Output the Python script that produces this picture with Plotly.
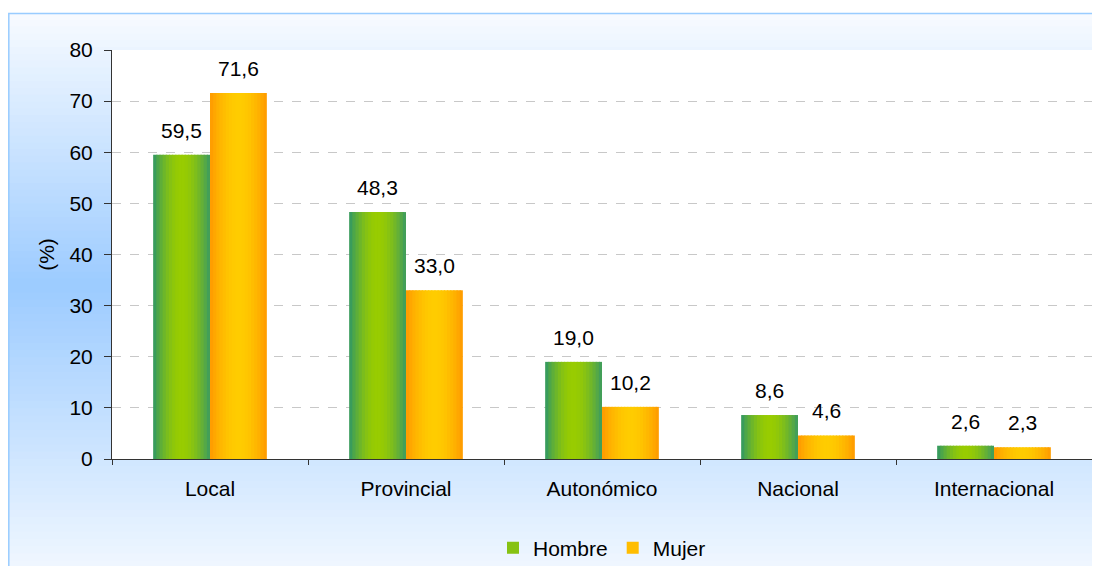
import plotly.graph_objects as go

categories = ["Local", "Provincial", "Autonómico", "Nacional", "Internacional"]
hombre = [59.5, 48.3, 19.0, 8.6, 2.6]
mujer = [71.6, 33.0, 10.2, 4.6, 2.3]
hombre_labels = ["59,5", "48,3", "19,0", "8,6", "2,6"]
mujer_labels = ["71,6", "33,0", "10,2", "4,6", "2,3"]

FONT = "Liberation Sans, Arial, sans-serif"
FS = 21

# page offset (default body margin of the html page)
OFF = 8
W, H = 1100, 566
# target plot area in window pixels
PL, PR, PT, PB = 112, 1092, 50, 459
L, T = PL - OFF, PT - OFF
R, B = W - (PR - OFF), H - (PB - OFF)
PW, PH = PR - PL, PB - PT


def px_x(px):
    return (px - PL) / PW


def px_y(py):
    return (PB - py) / PH


def hex2rgb(h):
    h = h.lstrip("#")
    return tuple(int(h[i:i + 2], 16) for i in (0, 2, 4))


def lerp(c1, c2, t):
    a, b = hex2rgb(c1), hex2rgb(c2)
    return "rgb(%d,%d,%d)" % tuple(round(a[i] + (b[i] - a[i]) * t) for i in range(3))


fig = go.Figure()

BAR_W = 0.29
N = 18


def add_gradient_series(name, values, offset0, edge_l, center, edge_r, legend_idx):
    sw = BAR_W / N
    for i in range(N):
        t = (i + 0.5) / N
        d = abs(2 * t - 1)
        k = max(0.0, 1 - d ** 1.8)
        edge = edge_l if t < 0.5 else edge_r
        col = lerp(edge, center, k)
        fig.add_trace(go.Bar(
            x=categories, y=values, name=name,
            width=sw * (1.35 if i < N - 1 else 1.0),
            offset=offset0 + i * sw,
            marker=dict(color=col, line=dict(width=0)),
            legendgroup=name, showlegend=(i == legend_idx),
            hoverinfo="skip" if i != legend_idx else None,
        ))


add_gradient_series("Hombre", hombre, -BAR_W, "#2f9766", "#99cc00", "#3a9a62", 5)
add_gradient_series("Mujer", mujer, 0.0, "#ff9900", "#ffcc00", "#ff9900", 4)

annotations = []
for i, c in enumerate(categories):
    annotations.append(dict(x=c, y=hombre[i], text=hombre_labels[i], xref="x", yref="y",
                            xshift=-BAR_W / 2 * PW / 5, yshift=11, yanchor="bottom",
                            showarrow=False, font=dict(size=FS, color="black", family=FONT)))
    annotations.append(dict(x=c, y=mujer[i], text=mujer_labels[i], xref="x", yref="y",
                            xshift=BAR_W / 2 * PW / 5, yshift=11, yanchor="bottom",
                            showarrow=False, font=dict(size=FS, color="black", family=FONT)))

# background gradient bands (frame area)
shapes = []
top_py, mid_py, bot_py = 13, 285, 575
top_c, mid_c, bot_c = "#f8fbff", "#9ccbff", "#f2f8ff"
nb = 40
for j in range(nb):
    y0 = top_py + (mid_py - top_py) * j / nb
    y1 = top_py + (mid_py - top_py) * (j + 1) / nb + 0.8
    t = (j + 0.5) / nb
    shapes.append(dict(type="rect", xref="paper", yref="paper", layer="below",
                       x0=px_x(8), x1=1.05, y0=px_y(y1), y1=px_y(y0),
                       fillcolor=lerp(top_c, mid_c, t), line=dict(width=0)))
for j in range(nb):
    y0 = mid_py + (bot_py - mid_py) * j / nb
    y1 = mid_py + (bot_py - mid_py) * (j + 1) / nb + 0.8
    t = (j + 0.5) / nb
    shapes.append(dict(type="rect", xref="paper", yref="paper", layer="below",
                       x0=px_x(8), x1=1.05, y0=px_y(y1), y1=px_y(y0),
                       fillcolor=lerp(mid_c, bot_c, t), line=dict(width=0)))
# frame border
shapes.append(dict(type="rect", xref="paper", yref="paper", layer="below",
                   x0=px_x(8.8), x1=1.05, y0=-0.5, y1=px_y(13.5),
                   fillcolor="rgba(0,0,0,0)", line=dict(width=1.5, color="#99ccff")))
# white plot area
shapes.append(dict(type="rect", xref="x domain", yref="y domain", layer="below",
                   x0=0, x1=1, y0=0, y1=1, fillcolor="white", line=dict(width=0)))

fig.update_layout(
    width=W, height=H,
    margin=dict(l=L, r=R, t=T, b=B, autoexpand=False),
    barmode="overlay",
    paper_bgcolor="white",
    plot_bgcolor="white",
    font=dict(family=FONT, size=FS, color="black"),
    shapes=shapes,
    annotations=annotations,
    showlegend=True,
    legend=dict(orientation="h", x=0.5, xanchor="center", y=px_y(548), yanchor="middle",
                font=dict(size=FS, family=FONT), bgcolor="rgba(0,0,0,0)",
                itemwidth=30, tracegroupgap=0),
    xaxis=dict(
        type="category", range=[-0.5, 4.5],
        showline=True, linecolor="#333333", linewidth=1,
        ticks="outside", tickson="boundaries", ticklen=5, tickcolor="#333333",
        showgrid=False, tickfont=dict(size=FS, family=FONT),
        ticklabelstandoff=11,
    ),
    yaxis=dict(
        range=[0, 80], dtick=10, tick0=0,
        showline=True, linecolor="#333333", linewidth=1,
        ticks="outside", ticklen=7, tickcolor="#333333",
        showgrid=True, gridcolor="#c8c8c8", griddash="dash", gridwidth=1,
        zeroline=False, tickfont=dict(size=FS, family=FONT),
        ticklabelstandoff=7,
        title=dict(text="(%)", font=dict(size=FS, family=FONT), standoff=9),
    ),
)

fig.write_html("out.html")
